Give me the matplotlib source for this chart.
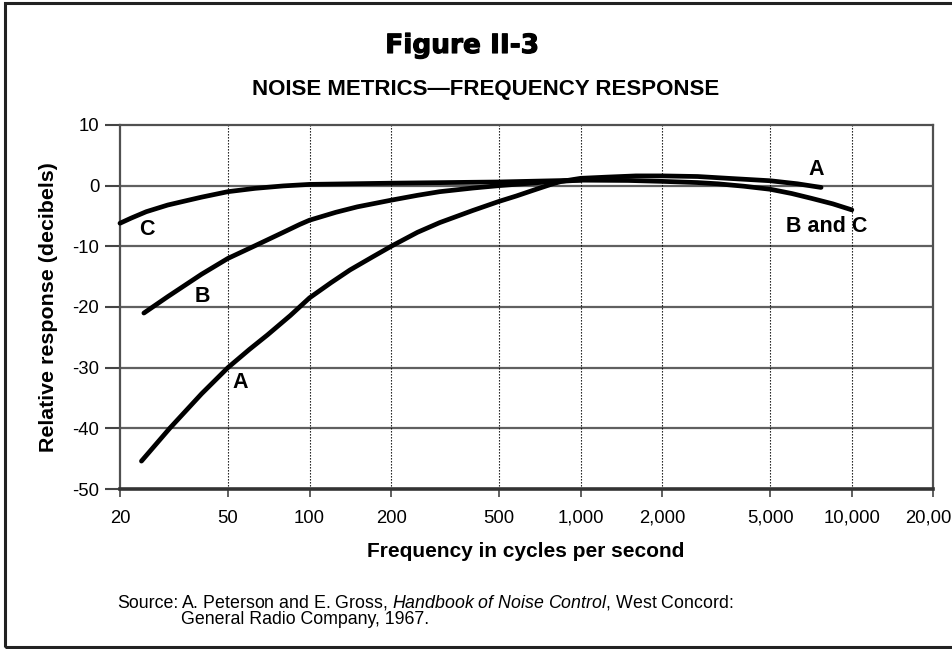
import matplotlib
matplotlib.use("Agg")
import matplotlib.pyplot as plt
import matplotlib.patheffects as pe
from matplotlib.patches import Rectangle

plt.rcParams['font.family'] = ['Liberation Sans', 'DejaVu Sans']
plt.rcParams['axes.unicode_minus'] = False
plt.rcParams['mathtext.fontset'] = 'custom'
plt.rcParams['mathtext.rm'] = 'Liberation Sans'
plt.rcParams['mathtext.it'] = 'Liberation Sans:italic'

# Weighting curves (relative response in dB vs frequency in Hz)
freq_a = [24, 30.5, 40, 50, 60, 70, 85, 100, 120, 141, 170, 200, 250, 302, 400, 500,
          580, 665, 789, 850, 1000, 1250, 1600, 2000, 2700, 3500, 5000, 6300, 7700]
resp_a = [-45.4, -40, -34.3, -30, -27, -24.6, -21.4, -18.5, -16, -13.9, -11.8, -10.0, -7.7, -6.1, -4.1, -2.6,
          -1.7, -0.8, 0.3, 0.7, 1.2, 1.4, 1.6, 1.6, 1.5, 1.2, 0.8, 0.3, -0.3]

freq_b = [24.5, 30, 40, 50, 63, 80, 92, 100, 125, 150, 200, 250, 302, 400, 500, 700, 1000]
resp_b = [-21.0, -18.3, -14.6, -12.0, -9.9, -7.7, -6.4, -5.7, -4.4, -3.5, -2.4, -1.6, -1.0, -0.4, 0.0, 0.5, 0.9]

freq_c = [20, 22, 25, 30, 35, 40, 50, 63, 80, 100, 200, 500, 1000, 1500, 2000, 2700,
          3200, 4000, 5000, 6000, 7100, 8500, 10000]
resp_c = [-6.2, -5.35, -4.3, -3.2, -2.5, -1.9, -1.0, -0.45, -0.05, 0.2, 0.4, 0.6, 0.9, 0.85, 0.7, 0.5,
          0.3, -0.1, -0.6, -1.3, -2.1, -3.0, -4.0]

xticks = [20, 50, 100, 200, 500, 1000, 2000, 5000, 10000, 20000]
xticklabels = ["20", "50", "100", "200", "500", "1,000", "2,000", "5,000", "10,000", "20,000"]
yticks = [10, 0, -10, -20, -30, -40, -50]

fig = plt.figure(figsize=(9.53, 6.49), dpi=100)
ax = fig.add_axes([0.1259, 0.2465, 0.8536, 0.561])

# outer frame
fig.patches.append(Rectangle((5/953, 2/649), 1.1, 644/649, transform=fig.transFigure,
                             fill=False, edgecolor='#222222', linewidth=2.2))

ax.set_xscale('log')
ax.set_xlim(20, 20000)
ax.set_ylim(-50, 10)

# grid: solid gray horizontals, dotted verticals
for y in yticks[1:-1]:
    ax.axhline(y, color='#606060', linewidth=1.6, zorder=1)
for x in xticks[1:-1]:
    ax.axvline(x, color='black', linewidth=0.8, linestyle=(0, (1.2, 1.5)), zorder=1)

lw = 3.4
ax.plot(freq_a, resp_a, color='black', linewidth=lw, solid_capstyle='round', solid_joinstyle='round', zorder=3)
ax.plot(freq_b, resp_b, color='black', linewidth=lw, solid_capstyle='round', solid_joinstyle='round', zorder=3)
ax.plot(freq_c, resp_c, color='black', linewidth=lw, solid_capstyle='round', solid_joinstyle='round',
        zorder=3, clip_on=False)

lab = dict(fontsize=15.5, fontweight='bold', ha='center', va='center')
ax.text(25.1, -7.3, "C", **lab)
ax.text(40.4, -18.3, "B", **lab)
ax.text(55.3, -32.5, "A", **lab)
ax.text(7380, 2.6, "A", **lab)
ax.text(8110, -6.8, "B and C", **lab)

ax.set_xticks(xticks)
ax.set_xticklabels(xticklabels)
ax.minorticks_off()
ax.set_yticks(yticks)
ax.tick_params(axis='y', length=11, width=1.5, color='#444444', labelsize=13.3, pad=4)
ax.tick_params(axis='x', length=6, width=1.2, color='#444444', labelsize=13.3, pad=9)

for side in ['left', 'right', 'top']:
    ax.spines[side].set_color('#505050')
    ax.spines[side].set_linewidth(1.6)
ax.spines['bottom'].set_color('#333333')
ax.spines['bottom'].set_linewidth(2.6)

ax.set_xlabel("Frequency in cycles per second", fontsize=15, fontweight='bold', va='center')
ax.xaxis.set_label_coords(0.499, -0.171)
ax.set_ylabel("Relative response (decibels)", fontsize=15.4, fontweight='bold', va='center')
ax.yaxis.set_label_coords(-0.088, 0.5)

fig.text(462/953, 1 - 46/649, "Figure II-3", fontsize=19, fontweight='bold', family='DejaVu Sans',
         ha='center', va='center', path_effects=[pe.withStroke(linewidth=0.8, foreground='black')])
fig.text(486/953, 1 - 90/649, "NOISE METRICS\u2014FREQUENCY RESPONSE", fontsize=16, fontweight='bold',
         ha='center', va='center')

src_y = 1 - 603/649
fig.text(117/953, src_y, "Source:", fontsize=12.8, va='center')
fig.text(181/953, src_y, "A. Peterson and E. Gross, $\\it{Handbook\\ of\\ Noise\\ Control,\\,}$West Concord:",
         fontsize=12.8, va='center')
fig.text(181/953, 1 - 620/649, "General Radio Company, 1967.", fontsize=12.8, va='center')

fig.savefig("out.png", dpi=100)
